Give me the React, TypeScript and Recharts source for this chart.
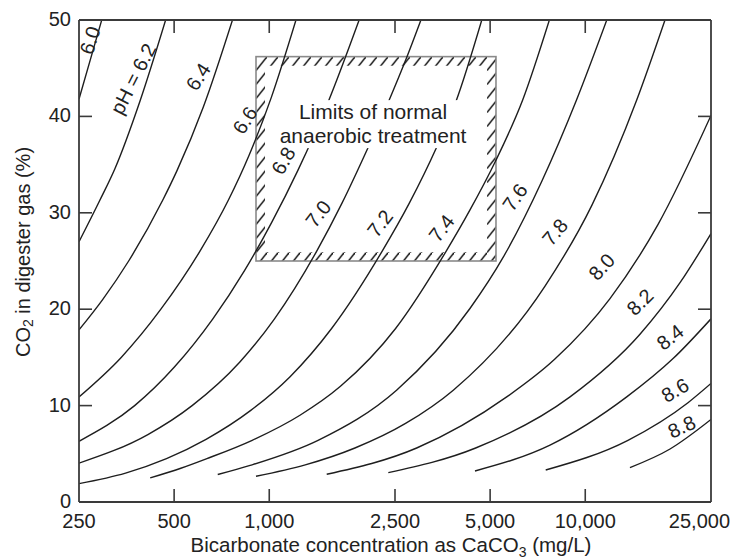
import React from 'react';
import { LineChart, Line, XAxis, YAxis, ReferenceArea, ReferenceDot, Label } from 'recharts';

// ---- data ----
const ph60 = [[250, 41.8], [270, 45.6], [295, 50]];
const ph62 = [[250, 27.0], [291, 31.3], [325, 34.6], [390, 41.6], [470, 50]];
const ph64 = [[250, 17.86], [297, 21], [359, 25], [460, 31.3], [511, 34.4], [619, 41], [765, 50]];
const ph66 = [[250, 10.9], [340, 15], [454, 20], [603, 26], [742, 31.3], [864, 36], [1016, 42], [1215, 50]];
const ph68 = [[250, 6.3], [375, 10], [501, 14], [663, 19], [835, 24], [1018, 29], [1232, 34.4], [1536, 41.5], [1925, 50]];
const ph70 = [[250, 4.03], [413, 7], [570, 10], [806, 14.5], [1039, 19], [1412, 26], [1699, 31], [2057, 36.8], [2382, 41.5], [2714, 46], [3020, 50]];
const ph72 = [[250, 1.91], [351, 3], [473, 4.5], [631, 6.5], [874, 9.5], [1164, 13], [1575, 18], [2275, 26], [2775, 31], [3386, 36.8], [3893, 41.5], [4705, 50]];
const ph74 = [[420, 2.5], [525, 3.5], [635, 4.5], [883, 6.4], [1251, 9], [1680, 12], [2511, 18], [3627, 26], [4318, 30.3], [5189, 35.3], [6338, 41.7], [7700, 50]];
const ph76 = [[687, 2.85], [870, 3.8], [1427, 6.4], [2529, 11.6], [4322, 20.1], [5502, 25.4], [7293, 33.3], [9383, 41.7], [11700, 50]];
const ph78 = [[908, 2.67], [1300, 3.85], [1867, 5.6], [2700, 8.15], [3823, 11.6], [7460, 22.4], [10500, 30.8], [14550, 41.7], [17880, 50]];
const ph80 = [[1520, 2.88], [2928, 5.6], [5643, 10.9], [8000, 14.8], [11975, 21.1], [17000, 28.8], [25000, 40.1]];
const ph82 = [[2381, 3.05], [4500, 5.6], [8950, 10.9], [14900, 17.4], [20000, 22.8], [25000, 27.85]];
const ph84 = [[4478, 3.22], [7735, 5.9], [13530, 10.9], [19000, 14.9], [25000, 19.0]];
const ph86 = [[7497, 3.32], [13650, 6.4], [21140, 10.3], [25000, 12.3]];
const ph88 = [[13850, 3.57], [18550, 5.5], [25000, 8.56]];

const curves = [ph60, ph62, ph64, ph66, ph68, ph70, ph72, ph74, ph76, ph78, ph80, ph82, ph84, ph86, ph88];

const xTicks = [250, 500, 1000, 2500, 5000, 10000, 25000];
const yTicks = [0, 10, 20, 30, 40, 50];

const curveLabels = [
  { text: '6.0', x: 271, y: 47.9, angle: -72 },
  { text: 'pH = 6.2', x: 371, y: 43.9, angle: -63 },
  { text: '6.4', x: 596, y: 44.1, angle: -57 },
  { text: '6.6', x: 838, y: 39.6, angle: -57 },
  { text: '6.8', x: 1108, y: 35.4, angle: -60 },
  { text: '7.0', x: 1430, y: 29.9, angle: -52 },
  { text: '7.2', x: 2241, y: 28.9, angle: -52 },
  { text: '7.4', x: 3512, y: 28.4, angle: -52 },
  { text: '7.6', x: 5993, y: 31.6, angle: -55 },
  { text: '7.8', x: 8020, y: 28.0, angle: -50 },
  { text: '8.0', x: 11275, y: 24.4, angle: -48 },
  { text: '8.2', x: 14900, y: 20.75, angle: -45 },
  { text: '8.4', x: 18550, y: 17.1, angle: -38 },
  { text: '8.6', x: 19230, y: 11.6, angle: -30 },
  { text: '8.8', x: 20190, y: 7.8, angle: -25 },
];

const limitsBox = { x1: 908, x2: 5218, y1: 25, y2: 46.2 };
const limitsText = ['Limits of normal', 'anaerobic treatment'];
const limitsTextAt = { x: 2130, y: 39.2 };

// ---- styles ----
const FONT = '"Liberation Sans", Arial, Helvetica, sans-serif';
const AXIS = '#3a3a3a';
const INK = '#1e1e1e';
const TXT = '#222';

const toPts = (a: number[][]) => a.map(([x, y]) => ({ x, y }));

const XTick = (props: any) => {
  const { x, y, payload } = props;
  const v = payload.value;
  const first = v === xTicks[0];
  const last = v === xTicks[xTicks.length - 1];
  return (
    <g>
      {!first && !last && <line x1={x} y1={y} x2={x} y2={y - 13} stroke={AXIS} strokeWidth={1.6} />}
      <text x={last ? x + 19 : x} y={y + 25.5} textAnchor={last ? 'end' : 'middle'} fontSize={20} fill={TXT} fontFamily={FONT}>
        {Number(v).toLocaleString('en-US')}
      </text>
    </g>
  );
};

const TopTick = (props: any) => {
  const { x, y, payload } = props;
  const v = payload.value;
  if (v === xTicks[0] || v === xTicks[xTicks.length - 1]) return <g />;
  return <line x1={x} y1={y} x2={x} y2={y + 13} stroke={AXIS} strokeWidth={1.6} />;
};

const YTick = (props: any) => {
  const { x, y, payload } = props;
  const v = payload.value;
  const edge = v === yTicks[0] || v === yTicks[yTicks.length - 1];
  return (
    <g>
      {!edge && <line x1={x} y1={y} x2={x + 13} y2={y} stroke={AXIS} strokeWidth={1.6} />}
      <text x={x - 8} y={y + 6} textAnchor="end" fontSize={20} fill={TXT} fontFamily={FONT}>{v}</text>
    </g>
  );
};

const RightTick = (props: any) => {
  const { x, y, payload } = props;
  const v = payload.value;
  if (v === yTicks[0] || v === yTicks[yTicks.length - 1]) return <g />;
  return <line x1={x} y1={y} x2={x - 13} y2={y} stroke={AXIS} strokeWidth={1.6} />;
};

const XTitle = (props: any) => {
  const vb = props.viewBox || { x: 79, y: 502, width: 632, height: 58 };
  return (
    <text x={vb.x + vb.width / 2 - 4} y={vb.y + 50} textAnchor="middle" fontSize={20.5} fill={TXT} fontFamily={FONT}>
      Bicarbonate concentration as CaCO<tspan dy={5} fontSize={14}>3</tspan><tspan dy={-5}> (mg/L)</tspan>
    </text>
  );
};

const YTitle = (props: any) => {
  const vb = props.viewBox || { x: 0, y: 20, width: 79, height: 482 };
  const cx = vb.x + 23;
  const cy = vb.y + 232;
  return (
    <text x={cx} y={cy} transform={`rotate(-90 ${cx} ${cy})`} textAnchor="middle" dominantBaseline="central" fontSize={20} fill={TXT} fontFamily={FONT}>
      CO<tspan dy={5} fontSize={14}>2</tspan><tspan dy={-5}> in digester gas (%)</tspan>
    </text>
  );
};

const HatchBox = (p: any) => {
  const { x, y, width: w, height: h } = p;
  const b = 9;
  const d = `M${x},${y}h${w}v${h}h${-w}Z M${x + b},${y + b}v${h - 2 * b}h${w - 2 * b}v${-(h - 2 * b)}Z`;
  return (
    <g>
      <defs>
        <pattern id="hatch" patternUnits="userSpaceOnUse" width={11} height={14} x={x} y={y}>
          <line x1={-0.5} y1={14.5} x2={11.5} y2={-0.5} stroke="#111" strokeWidth={1.5} />
        </pattern>
      </defs>
      <path d={d} fill="url(#hatch)" fillRule="evenodd" stroke="none" />
      <rect x={x} y={y} width={w} height={h} fill="none" stroke="#8a8a8a" strokeWidth={1.6} />
    </g>
  );
};

const LimitsLabel = (p: any) => {
  const { cx, cy } = p;
  return (
    <g>
      <rect x={cx - 97} y={cy - 24} width={194} height={48} fill="#fff" />
      <text x={cx} y={cy - 5} textAnchor="middle" fontSize={21} fill={TXT} fontFamily={FONT}>{limitsText[0]}</text>
      <text x={cx} y={cy + 19} textAnchor="middle" fontSize={21} fill={TXT} fontFamily={FONT}>{limitsText[1]}</text>
    </g>
  );
};

const makeCurveLabel = (text: string, angle: number) => (p: any) => (
  <text
    x={p.cx}
    y={p.cy}
    transform={`rotate(${angle} ${p.cx} ${p.cy})`}
    textAnchor="middle"
    dominantBaseline="central"
    fontSize={20}
    fill={TXT}
    fontFamily={FONT}
  >
    {text}
  </text>
);

export default function App() {
  return (
    <div style={{ position: 'absolute', left: 0, top: 0, width: 732, height: 560, background: '#fff' }}>
      <LineChart width={732} height={560} margin={{ top: 0, right: 0, bottom: 0, left: 0 }}>
        <XAxis
          dataKey="x"
          type="number"
          scale="log"
          domain={[250, 25000]}
          ticks={xTicks}
          allowDataOverflow
          interval={0}
          tickLine={false}
          tickSize={0}
          tickMargin={0}
          height={58}
          axisLine={{ stroke: AXIS, strokeWidth: 1.8 }}
          tick={<XTick />}
        >
          <Label content={<XTitle />} />
        </XAxis>
        <XAxis
          xAxisId="top"
          orientation="top"
          dataKey="x"
          type="number"
          scale="log"
          domain={[250, 25000]}
          ticks={xTicks}
          allowDataOverflow
          interval={0}
          tickLine={false}
          tickSize={0}
          tickMargin={0}
          height={20}
          axisLine={{ stroke: AXIS, strokeWidth: 1.8 }}
          tick={<TopTick />}
        />
        <YAxis
          type="number"
          domain={[0, 50]}
          ticks={yTicks}
          allowDataOverflow
          interval={0}
          tickLine={false}
          tickSize={0}
          tickMargin={0}
          width={79}
          axisLine={{ stroke: AXIS, strokeWidth: 1.8 }}
          tick={<YTick />}
        >
          <Label content={<YTitle />} />
        </YAxis>
        <YAxis
          yAxisId="right"
          orientation="right"
          type="number"
          domain={[0, 50]}
          ticks={yTicks}
          allowDataOverflow
          interval={0}
          tickLine={false}
          tickSize={0}
          tickMargin={0}
          width={21}
          axisLine={{ stroke: AXIS, strokeWidth: 1.8 }}
          tick={<RightTick />}
        />
        <ReferenceArea
          x1={limitsBox.x1}
          x2={limitsBox.x2}
          y1={limitsBox.y1}
          y2={limitsBox.y2}
          ifOverflow="visible"
          shape={HatchBox}
        />
        {curves.map((c, i) => (
          <Line
            key={i}
            data={toPts(c)}
            dataKey="y"
            type="monotone"
            stroke={INK}
            strokeWidth={1.4}
            dot={false}
            activeDot={false}
            isAnimationActive={false}
          />
        ))}
        <ReferenceDot x={limitsTextAt.x} y={limitsTextAt.y} r={0} ifOverflow="visible" shape={LimitsLabel} />
        {curveLabels.map((l, i) => (
          <ReferenceDot key={'l' + i} x={l.x} y={l.y} r={0} ifOverflow="visible" shape={makeCurveLabel(l.text, l.angle)} />
        ))}
      </LineChart>
    </div>
  );
}
